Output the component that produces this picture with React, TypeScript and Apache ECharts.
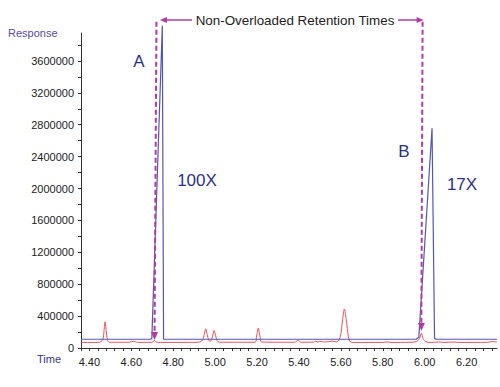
import React, { useEffect, useRef } from "react";
import * as echarts from "echarts";

// Retention time (min) vs response
const overloaded100X: [number, number][] = [
  [4.36, 110000], [4.69, 110000], [4.698, 118000], [4.748, 4040000], [4.754, 112000],
  [4.76, 110000], [5.96, 110000], [5.972, 135000], [6.035, 2755000], [6.047, 118000],
  [6.055, 110000], [6.345, 110000],
];

const reference1X: [number, number][] = [
  [4.36, 70000], [4.44, 70000], [4.455, 80000], [4.465, 110000], [4.47, 220000],
  [4.475, 330000], [4.48, 220000], [4.486, 100000], [4.495, 72000], [4.59, 72000],
  [4.61, 84000], [4.63, 71000], [4.70, 72000], [4.71, 96000], [4.72, 74000],
  [4.74, 70000], [4.92, 72000], [4.94, 100000], [4.948, 170000], [4.955, 240000],
  [4.962, 170000], [4.97, 95000], [4.978, 85000], [4.987, 140000], [4.995, 220000],
  [5.002, 160000], [5.01, 90000], [5.02, 72000], [5.19, 72000], [5.198, 150000],
  [5.206, 250000], [5.214, 150000], [5.222, 75000], [5.38, 72000], [5.396, 95000],
  [5.41, 72000], [5.47, 73000], [5.48, 86000], [5.49, 74000], [5.505, 84000],
  [5.52, 74000], [5.56, 86000], [5.58, 76000], [5.598, 150000], [5.608, 350000],
  [5.617, 490000], [5.626, 350000], [5.636, 140000], [5.646, 75000], [5.66, 70000],
  [5.80, 70000], [5.82, 76000], [5.84, 70000], [5.93, 72000], [5.96, 80000],
  [5.975, 120000], [5.984, 185000], [5.993, 115000], [6.005, 78000], [6.03, 70000],
  [6.07, 76000], [6.09, 70000], [6.14, 75000], [6.16, 70000], [6.30, 72000],
  [6.32, 80000], [6.345, 74000],
];

// Axis settings
const X_MIN = 4.36;
const X_MAX = 6.345;
const X_TICK = 0.04;
const Y_MIN = 0;
const Y_MAX = 3950000;
const Y_TICK = 200000;

// Non-overloaded retention time markers: [top time, arrow tip time, arrow tip value]
const markerTopTimes = [4.72, 5.99];
const markerTipTimes = [4.711, 5.984];
const markerTipValues = [100000, 213000];
const MARKER_TOP_VALUE = 4091000;
const BRACKET_VALUE = 4113000;

const FONT = "'Liberation Sans', Arial, sans-serif";
const MAGENTA = "#b23aa6";
const NAVY = "#2d3184";

export default function App() {
  const ref = useRef<HTMLDivElement>(null);

  useEffect(() => {
    if (!ref.current) return;
    const chart = echarts.init(ref.current, null, { renderer: "svg" });
    const option: any = {
      animation: false,
      backgroundColor: "#ffffff",
      grid: { left: 81, right: 3, top: 33, bottom: 39, containLabel: false },
      xAxis: {
        type: "value",
        min: X_MIN,
        max: X_MAX,
        interval: X_TICK,
        axisLine: { show: true, onZero: false, lineStyle: { color: "#333", width: 1 } },
        axisTick: { show: true, length: 3, lineStyle: { color: "#333" } },
        splitLine: { show: false },
        axisLabel: {
          margin: 8,
          fontSize: 11,
          fontFamily: FONT,
          color: "#222",
          showMaxLabel: false,
          formatter: (v: number) => {
            const k = v * 5;
            return Math.abs(k - Math.round(k)) < 1e-6 ? v.toFixed(2) : "";
          },
        },
      },
      yAxis: {
        type: "value",
        min: Y_MIN,
        max: Y_MAX,
        interval: Y_TICK,
        axisLine: { show: true, lineStyle: { color: "#333", width: 1 } },
        axisTick: { show: true, length: 3, lineStyle: { color: "#333" } },
        splitLine: { show: false },
        axisLabel: {
          margin: 7,
          fontSize: 11,
          fontFamily: FONT,
          color: "#222",
          showMaxLabel: false,
          formatter: (v: number) => (Math.round(v) % 400000 === 0 ? String(Math.round(v)) : ""),
        },
      },
      series: [
        {
          name: "1X",
          type: "line",
          data: reference1X,
          symbol: "none",
          smooth: 0.3,
          lineStyle: { color: "#f0505a", width: 1 },
          clip: true,
          z: 2,
        },
        {
          name: "100X",
          type: "line",
          data: overloaded100X,
          symbol: "none",
          lineStyle: { color: "#5555b8", width: 1.2 },
          clip: false,
          z: 3,
        },
      ],
    };
    chart.setOption(option);

    const px = (t: number, v: number) =>
      chart.convertToPixel({ gridIndex: 0 } as any, [t, v]) as number[];

    const graphics: any[] = [];
    const topPts: number[][] = [];
    markerTopTimes.forEach((tt, i) => {
      const top = px(tt, MARKER_TOP_VALUE);
      const tip = px(markerTipTimes[i], markerTipValues[i]);
      topPts.push(top);
      graphics.push({
        type: "line",
        shape: { x1: top[0], y1: top[1], x2: tip[0], y2: tip[1] - 6 },
        style: { stroke: MAGENTA, lineWidth: 2, lineDash: [5, 3] },
        z: 10,
      });
      graphics.push({
        type: "polygon",
        shape: { points: [[tip[0] - 3.5, tip[1] - 8], [tip[0] + 3.5, tip[1] - 8], [tip[0], tip[1]]] },
        style: { fill: MAGENTA },
        z: 10,
      });
    });

    const by = px(markerTopTimes[0], BRACKET_VALUE)[1];
    const leftTip = topPts[0][0] + 3.5;
    const rightTip = topPts[1][0] + 1;
    const textLeft = 194;
    const textRight = 396;
    graphics.push({
      type: "line",
      shape: { x1: leftTip + 5, y1: by, x2: textLeft - 2, y2: by },
      style: { stroke: MAGENTA, lineWidth: 1.5 },
      z: 10,
    });
    graphics.push({
      type: "polygon",
      shape: { points: [[leftTip, by], [leftTip + 7, by - 3], [leftTip + 7, by + 3]] },
      style: { fill: MAGENTA },
      z: 10,
    });
    graphics.push({
      type: "line",
      shape: { x1: textRight + 2, y1: by, x2: rightTip - 5, y2: by },
      style: { stroke: MAGENTA, lineWidth: 1.5 },
      z: 10,
    });
    graphics.push({
      type: "polygon",
      shape: { points: [[rightTip, by], [rightTip - 7, by - 3], [rightTip - 7, by + 3]] },
      style: { fill: MAGENTA },
      z: 10,
    });
    graphics.push({
      type: "text",
      x: (textLeft + textRight) / 2,
      y: by,
      style: {
        text: "Non-Overloaded Retention Times",
        fontSize: 13.4,
        fontFamily: FONT,
        fill: "#222",
        align: "center",
        verticalAlign: "middle",
      },
      z: 10,
    });

    const label = (text: string, x: number, y: number, size: number, color: string, align = "center") => ({
      type: "text",
      x,
      y,
      style: { text, fontSize: size, fontFamily: FONT, fill: color, align, verticalAlign: "middle" },
      z: 10,
    });
    graphics.push(label("Response", 8, 33, 11, "#5b4a9e", "left"));
    graphics.push(label("Time", 37, 359, 11, "#34388e", "left"));
    graphics.push(label("A", 139, 61, 17, NAVY));
    graphics.push(label("100X", 197, 180, 17, NAVY));
    graphics.push(label("B", 404, 151, 17, NAVY));
    graphics.push(label("17X", 462, 184, 17, NAVY));

    chart.setOption({ graphic: graphics });

    return () => {
      chart.dispose();
    };
  }, []);

  return (
    <div
      ref={ref}
      style={{ position: "fixed", left: 0, top: 0, width: 500, height: 387, background: "#fff" }}
    />
  );
}
